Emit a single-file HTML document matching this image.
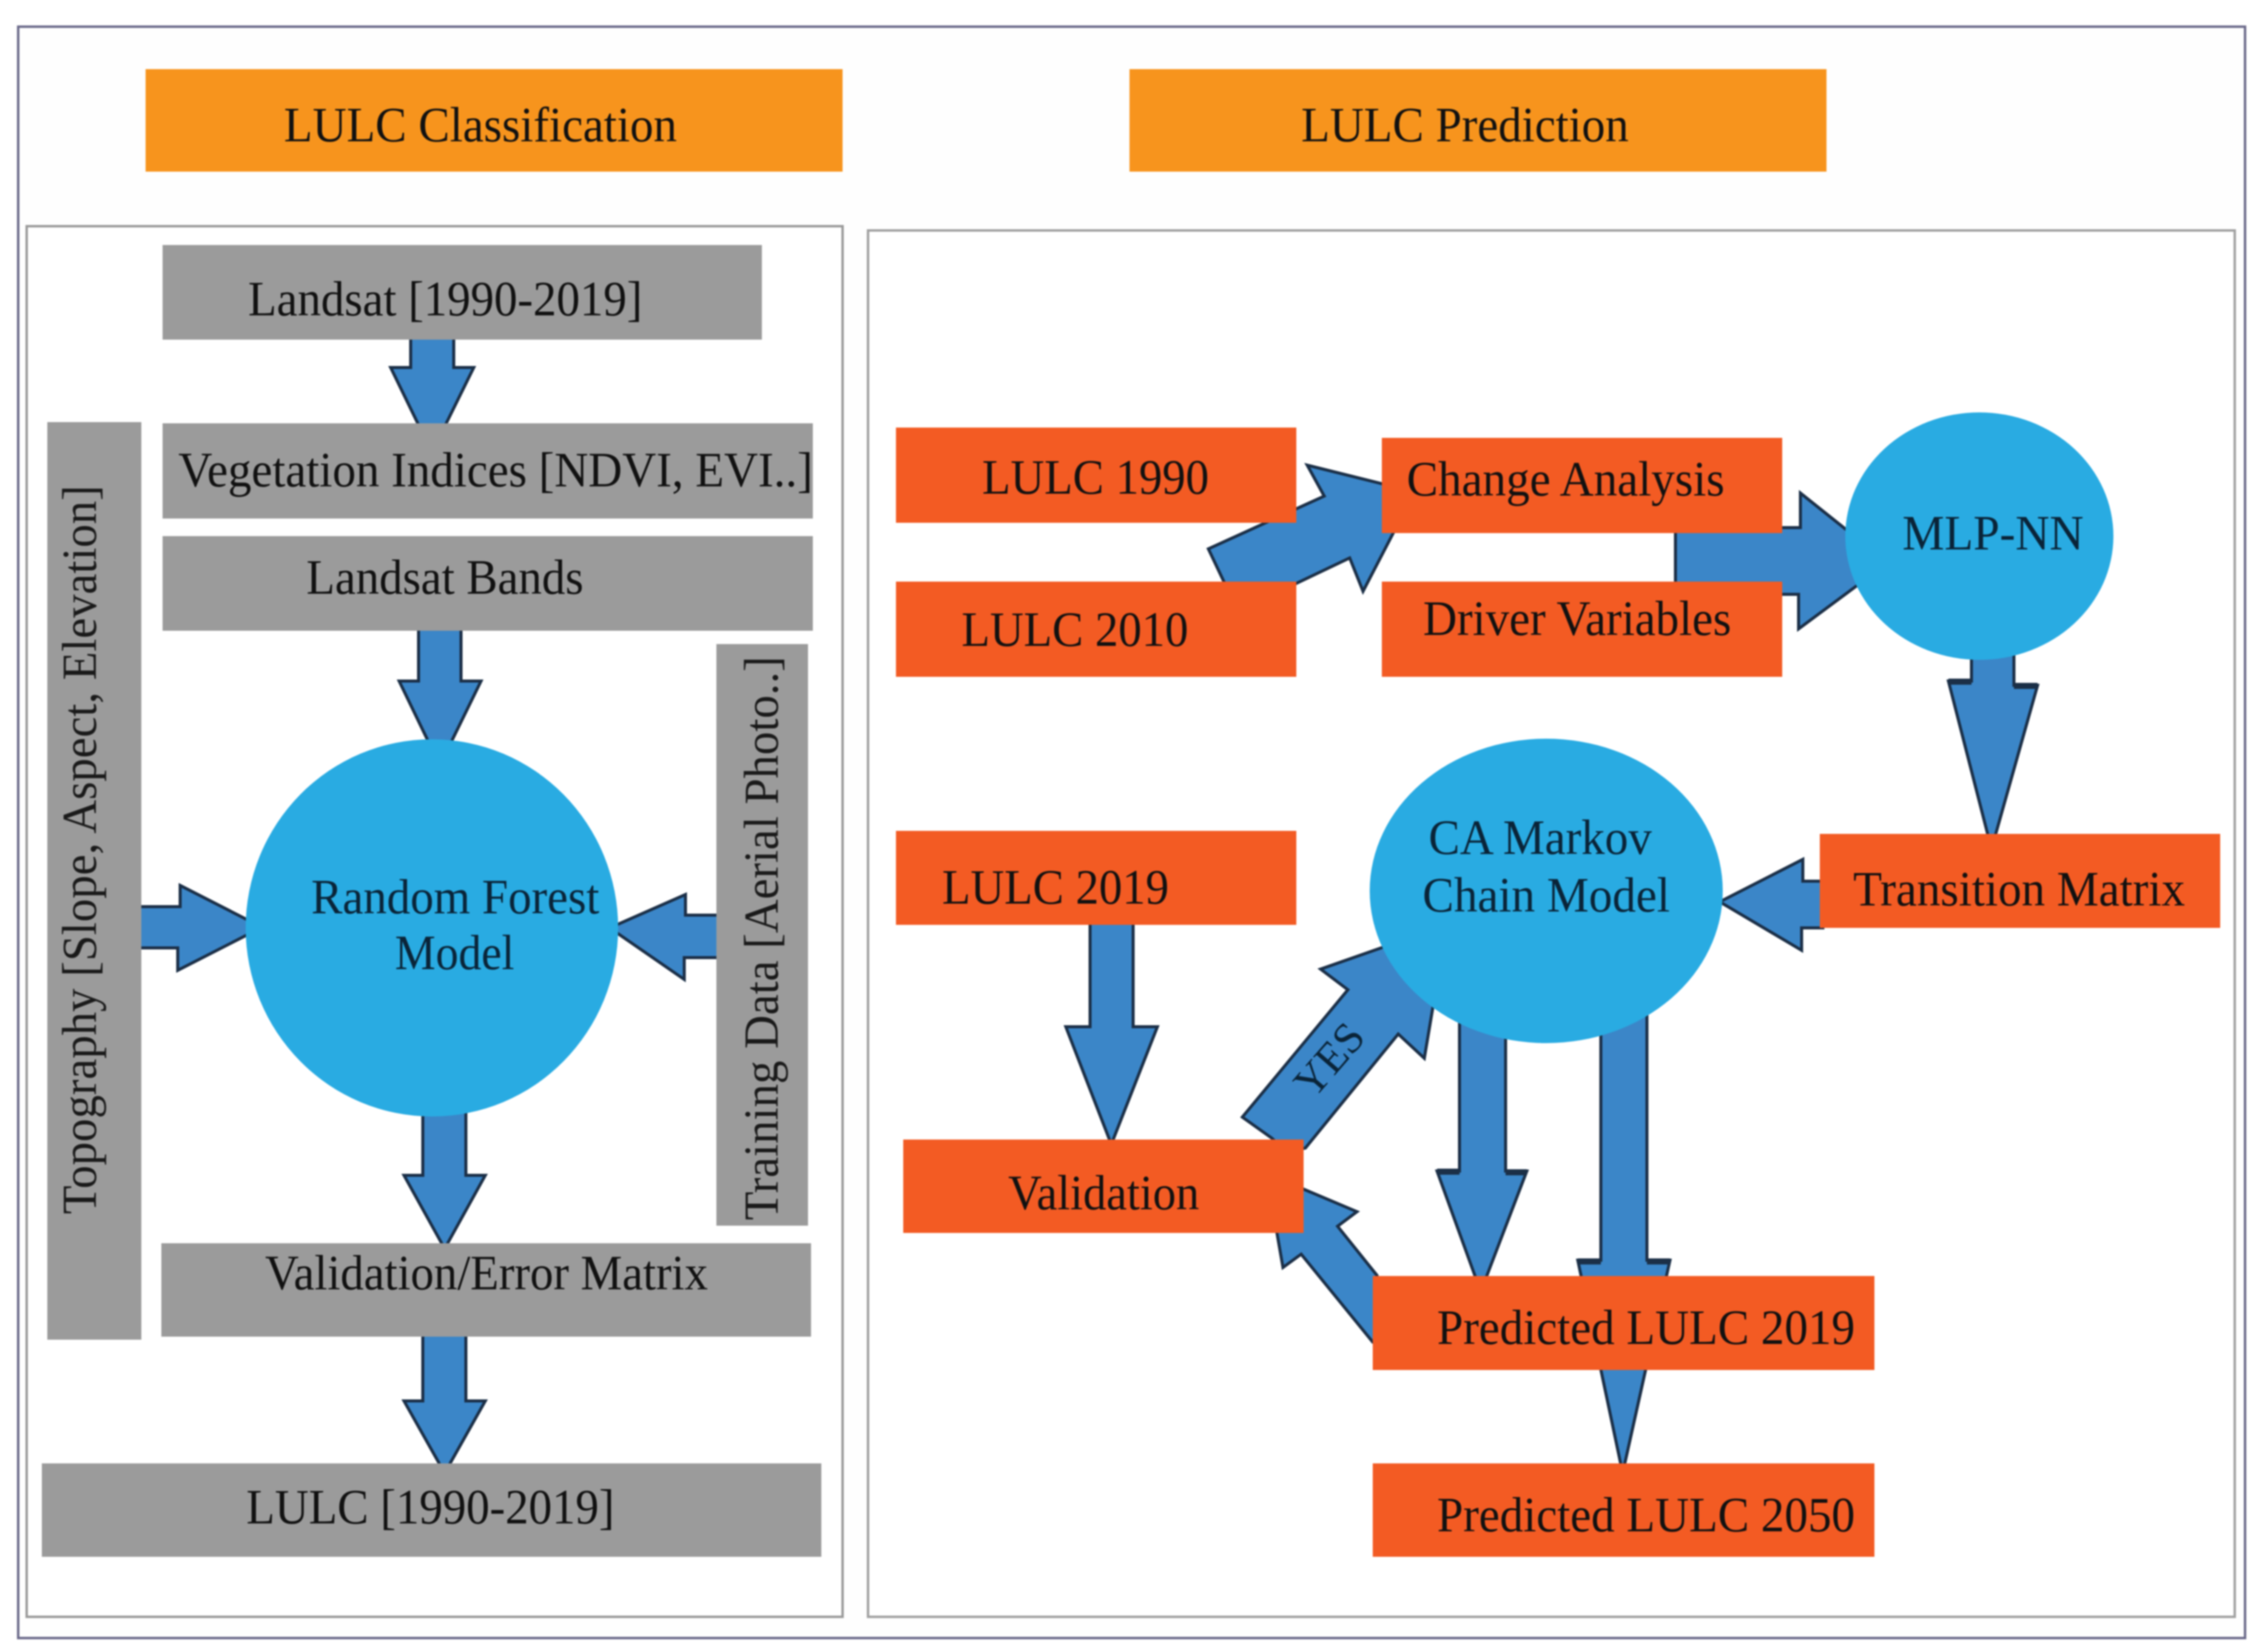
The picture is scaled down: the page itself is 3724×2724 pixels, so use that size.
<!DOCTYPE html>
<html><head><meta charset="utf-8"><style>
html,body{margin:0;padding:0;background:#fff;width:3724px;height:2724px;overflow:hidden}
svg{display:block;filter:blur(1.2px)}
text{font-family:"Liberation Serif",serif;font-size:82px;fill:#111}
.r{font-size:80px;fill:#1a1a1a}
.c{fill:#0a2438}
.a{fill:#3b86c8;stroke:#1b2f47;stroke-width:5;stroke-linejoin:miter}
</style></head><body>
<svg width="3724" height="2724" viewBox="0 0 3724 2724" xmlns="http://www.w3.org/2000/svg">
<rect x="0" y="0" width="3724" height="2724" fill="#fff"/>
<rect x="30" y="44" width="3671" height="2657" fill="#fefefe" stroke="#6b6a8a" stroke-width="4"/>
<rect x="44" y="373" width="1345" height="2293" fill="#fff" stroke="#9a9a9a" stroke-width="4"/>
<rect x="1431" y="380" width="2253" height="2286" fill="#fff" stroke="#a0a0a0" stroke-width="4"/>
<rect x="240" y="114" width="1149" height="169" fill="#f7941d"/>
<rect x="1862" y="114" width="1149" height="169" fill="#f7941d"/>

<!-- arrows -->
<polygon class="a" points="677,555 748,555 748,606 781,606 712,746 644,606 677,606"/>
<polygon class="a" points="690,1035 760,1035 760,1123 793,1123 725,1262 658,1123 690,1123"/>
<polygon class="a" points="697,1800 768,1800 768,1938 800,1938 733,2059 666,1938 697,1938"/>
<polygon class="a" points="697,2200 768,2200 768,2310 800,2310 733,2429 666,2310 697,2310"/>
<polygon class="a" points="228,1495 297,1495 297,1460 432,1529 293,1600 293,1563 228,1563"/>
<polygon class="a" points="1186,1509 1130,1509 1130,1475 1005,1530 1128,1615 1128,1579 1186,1579"/>
<polygon class="a" points="1992,905 2183,818 2155,767 2332,811 2247,975 2225,920 2137,962 2040,1000 2018,960"/>
<polygon class="a" points="2762,870 2968,870 2968,813 3112,928 2965,1037 2965,980 2762,980"/>
<polygon class="a" points="3250,1060 3320,1060 3320,1130 3359,1130 3283,1400 3212,1123 3250,1123"/>
<polygon class="a" points="1797,1520 1868,1520 1868,1693 1908,1693 1832,1887 1757,1693 1797,1693"/>
<polygon class="a" points="3005,1453 2972,1453 2972,1417 2835,1487 2970,1567 2970,1530 3005,1530"/>
<polygon class="a" points="2048,1842 2222,1632 2177,1598 2385,1525 2348,1745 2305,1705 2152,1893 2120,1900 2097,1877"/>
<polygon class="a" points="2270,2103 2205,2022 2237,1998 2088,1935 2115,2090 2145,2068 2263,2213 2290,2213"/>
<polygon class="a" points="2406,1650 2482,1650 2482,1931 2517,1931 2441,2130 2369,1931 2406,1931"/>
<polygon class="a" points="2639,1650 2715,1650 2715,2078 2753,2078 2675,2429 2601,2078 2639,2078"/>
<g stroke="#1b2f47" stroke-width="10">
<line x1="2601" y1="2080" x2="2639" y2="2080"/>
<line x1="2715" y1="2080" x2="2753" y2="2080"/>
<line x1="3212" y1="1124" x2="3250" y2="1124"/>
<line x1="3320" y1="1131" x2="3359" y2="1131"/>
<line x1="2369" y1="1932" x2="2406" y2="1932"/>
<line x1="2482" y1="1933" x2="2517" y2="1933"/>
</g>

<!-- gray boxes -->
<g fill="#9b9b9b">
<rect x="268" y="404" width="988" height="156"/>
<rect x="268" y="698" width="1072" height="157"/>
<rect x="268" y="884" width="1072" height="156"/>
<rect x="78" y="696" width="155" height="1513"/>
<rect x="1181" y="1062" width="151" height="959"/>
<rect x="266" y="2050" width="1071" height="154"/>
<rect x="69" y="2413" width="1285" height="154"/>
</g>
<!-- circles -->
<g fill="#29abe2">
<ellipse cx="712" cy="1530" rx="307" ry="311"/>
<ellipse cx="3263" cy="884" rx="221" ry="204"/>
<ellipse cx="2549" cy="1469" rx="291" ry="251"/>
</g>
<!-- orange boxes -->
<g fill="#f35b23">
<rect x="1477" y="705" width="660" height="157"/>
<rect x="1477" y="959" width="660" height="157"/>
<rect x="2278" y="722" width="660" height="157"/>
<rect x="2278" y="959" width="660" height="157"/>
<rect x="1477" y="1370" width="660" height="155"/>
<rect x="1489" y="1879" width="660" height="154"/>
<rect x="3000" y="1375" width="660" height="155"/>
<rect x="2263" y="2104" width="827" height="155"/>
<rect x="2263" y="2413" width="827" height="154"/>
</g>

<!-- text -->
<text x="468" y="233" textLength="648" lengthAdjust="spacingAndGlyphs">LULC Classification</text>
<text x="2145" y="233" textLength="540" lengthAdjust="spacingAndGlyphs">LULC Prediction</text>
<text x="409" y="520" textLength="650" lengthAdjust="spacingAndGlyphs">Landsat [1990-2019]</text>
<text x="294" y="802" textLength="1046" lengthAdjust="spacingAndGlyphs">Vegetation Indices [NDVI, EVI..]</text>
<text x="505" y="979" textLength="457" lengthAdjust="spacingAndGlyphs">Landsat Bands</text>
<text class="c" x="513" y="1506" textLength="475" lengthAdjust="spacingAndGlyphs">Random Forest</text>
<text class="c" x="651" y="1598" textLength="197" lengthAdjust="spacingAndGlyphs">Model</text>
<text x="437" y="2126" textLength="730" lengthAdjust="spacingAndGlyphs">Validation/Error Matrix</text>
<text x="406" y="2512" textLength="607" lengthAdjust="spacingAndGlyphs">LULC [1990-2019]</text>
<text class="r" transform="translate(158,2002) rotate(-90)" textLength="1202" lengthAdjust="spacingAndGlyphs">Topography [Slope, Aspect, Elevation]</text>
<text class="r" transform="translate(1282,2012) rotate(-90)" textLength="930" lengthAdjust="spacingAndGlyphs">Training Data [Aerial Photo..]</text>

<text x="1619" y="814" textLength="374" lengthAdjust="spacingAndGlyphs">LULC 1990</text>
<text x="1585" y="1065" textLength="374" lengthAdjust="spacingAndGlyphs">LULC 2010</text>
<text x="2319" y="817" textLength="524" lengthAdjust="spacingAndGlyphs">Change Analysis</text>
<text x="2346" y="1047" textLength="508" lengthAdjust="spacingAndGlyphs">Driver Variables</text>
<text class="c" x="3136" y="906" textLength="299" lengthAdjust="spacingAndGlyphs">MLP-NN</text>
<text class="c" x="2355" y="1408" textLength="368" lengthAdjust="spacingAndGlyphs">CA Markov</text>
<text class="c" x="2345" y="1503" textLength="408" lengthAdjust="spacingAndGlyphs">Chain Model</text>
<text x="1553" y="1490" textLength="374" lengthAdjust="spacingAndGlyphs">LULC 2019</text>
<text x="1662" y="1994" textLength="315" lengthAdjust="spacingAndGlyphs">Validation</text>
<text x="3055" y="1493" textLength="547" lengthAdjust="spacingAndGlyphs">Transition Matrix</text>
<text x="2369" y="2216" textLength="689" lengthAdjust="spacingAndGlyphs">Predicted LULC 2019</text>
<text x="2369" y="2525" textLength="689" lengthAdjust="spacingAndGlyphs">Predicted LULC 2050</text>
<text class="c" transform="translate(2165,1814) rotate(-49)" style="font-size:72px" textLength="135" lengthAdjust="spacingAndGlyphs">YES</text>
</svg>
</body></html>
